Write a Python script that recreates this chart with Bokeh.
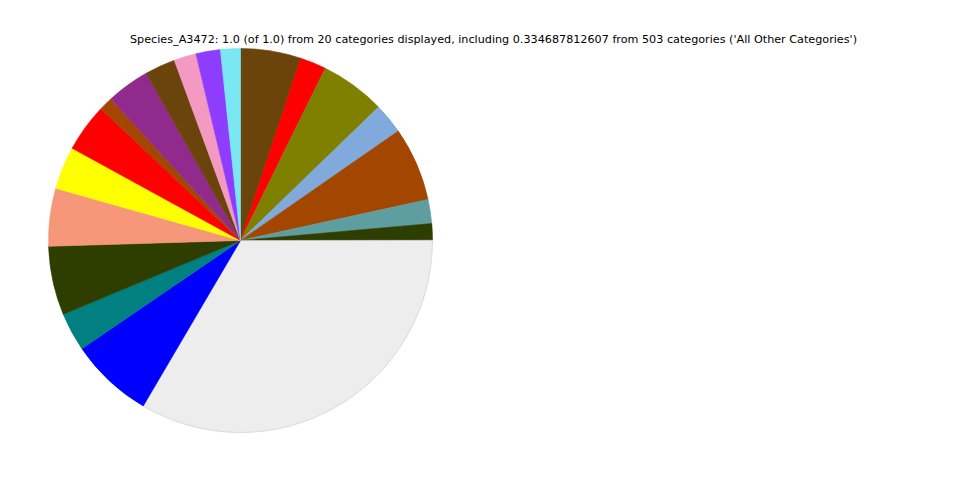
import numpy as np
from bokeh.plotting import figure
from bokeh.models import ColumnDataSource, Range1d
from bokeh.core.properties import value
from bokeh.embed import file_html
from bokeh.resources import INLINE

# Data (fractions, clockwise from 12 o'clock)
categories = [f"Cat_{i}" for i in range(1, 20)] + ["All Other Categories"]
categories = categories[:7] + ["All Other Categories"] + categories[7:19]
fractions = [0.0508, 0.0220, 0.0549, 0.0258, 0.0622, 0.0202, 0.0139,
             0.334687812607,
             0.0702, 0.0325, 0.0579, 0.0486, 0.0360, 0.0407, 0.0115,
             0.0362, 0.0258, 0.0187, 0.0206, 0.0167]
colors = ["#6b440b", "#ff0000", "#808000", "#7faadb", "#a34700", "#5f9ea0", "#2d3e00",
          "#ededed",
          "#0000ff", "#008080", "#2d3e00", "#f7977a", "#ffff00", "#ff0000", "#a34700",
          "#912a8d", "#6b440b", "#f49ac2", "#8e3dff", "#79e8f2"]
title_text = ("Species_A3472: 1.0 (of 1.0) from 20 categories displayed, including "
              "0.334687812607 from 503 categories ('All Other Categories')")

W, H = 944, 464
fr = np.array(fractions)
fr = fr / fr.sum()
cum = np.concatenate([[0], np.cumsum(fr)])
start = np.pi / 2 - 2 * np.pi * cum[:-1]
end = np.pi / 2 - 2 * np.pi * cum[1:]
line_colors = [("#c8c8c8" if c == "#ededed" else c) for c in colors]

src = ColumnDataSource(dict(cat=categories, start=start, end=end,
                            color=colors, lc=line_colors))

p = figure(width=W, height=H, output_backend="svg", toolbar_location=None,
           x_range=Range1d(0, W), y_range=Range1d(0, H), min_border=0)
p.axis.visible = False
p.grid.visible = False
p.outline_line_color = None
p.background_fill_color = "white"

cx, cy, r = 240, H - 240, 192
p.wedge(x=cx, y=cy, radius=r, start_angle="start", end_angle="end",
        direction="clock", fill_color="color", line_color="lc", line_width=0.6,
        source=src)

p.text(x=[493], y=[H - 39], text=[title_text], text_align="center",
       text_baseline="middle", text_font=value("DejaVu Sans"),
       text_font_size="11.2px", text_color="black")

open("out.html", "w").write(file_html(p, INLINE))
